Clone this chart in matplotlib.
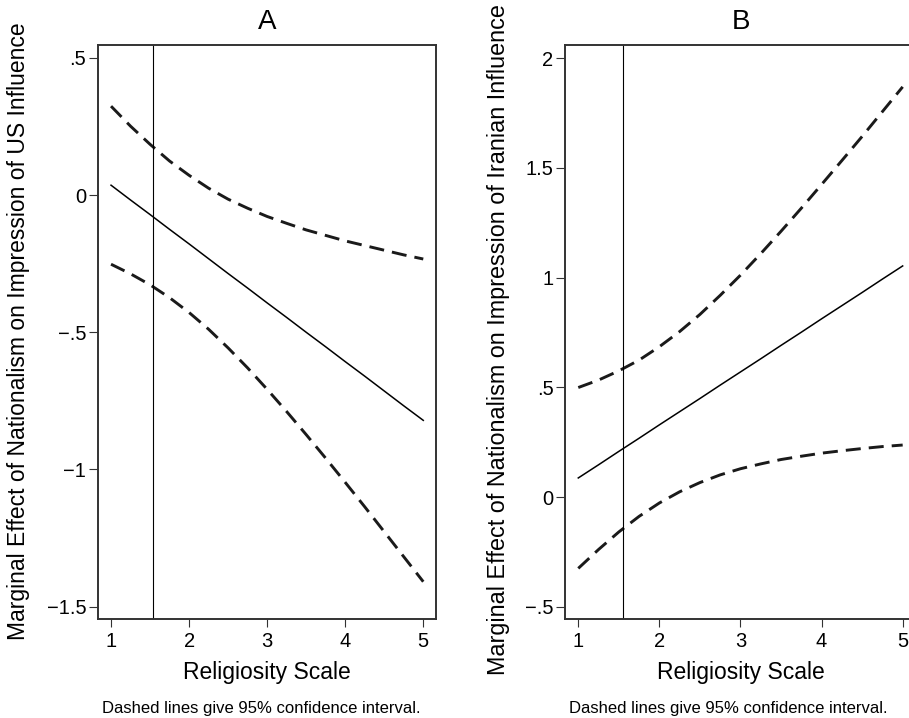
import matplotlib
matplotlib.use("Agg")
import matplotlib.pyplot as plt

plt.rcParams['font.family'] = ['Liberation Sans', 'DejaVu Sans']
plt.rcParams['lines.scale_dashes'] = False

# religiosity values where the marginal effect was evaluated
relig = [1, 1.25, 1.5, 1.75, 2, 2.25, 2.5, 2.75, 3,
         3.25, 3.5, 3.75, 4, 4.25, 4.5, 4.75, 5]

# panel A: effect on impression of US influence
us_effect = [0.036, -0.018, -0.071, -0.125, -0.178, -0.232, -0.286, -0.339, -0.393,
             -0.446, -0.500, -0.553, -0.607, -0.660, -0.714, -0.768, -0.821]
us_upper = [0.324, 0.251, 0.185, 0.124, 0.072, 0.025, -0.015, -0.048, -0.078,
            -0.103, -0.127, -0.147, -0.167, -0.184, -0.201, -0.218, -0.233]
us_lower = [-0.252, -0.287, -0.327, -0.374, -0.428, -0.489, -0.557, -0.630, -0.708,
            -0.789, -0.873, -0.959, -1.047, -1.136, -1.227, -1.318, -1.409]
us_ticks = [0.5, 0, -0.5, -1, -1.5]
us_ticklabels = [".5", "0", "\u2212.5", "\u22121", "\u22121.5"]

# panel B: effect on impression of Iranian influence
ir_effect = [0.087, 0.147, 0.208, 0.268, 0.329, 0.389, 0.449, 0.510, 0.570,
             0.630, 0.691, 0.751, 0.812, 0.872, 0.932, 0.993, 1.053]
ir_upper = [0.499, 0.533, 0.575, 0.624, 0.685, 0.754, 0.832, 0.919, 1.011,
            1.109, 1.211, 1.316, 1.424, 1.533, 1.643, 1.756, 1.869]
ir_lower = [-0.325, -0.239, -0.159, -0.088, -0.027, 0.024, 0.066, 0.101, 0.129,
            0.151, 0.171, 0.186, 0.200, 0.211, 0.221, 0.230, 0.237]
ir_ticks = [2, 1.5, 1, 0.5, 0, -0.5]
ir_ticklabels = ["2", "1.5", "1", ".5", "0", "\u2212.5"]

# mean of the religiosity scale (vertical reference line)
mean_a = 1.535
mean_b = 1.555

W, H = 909, 718
fig = plt.figure(figsize=(W / 100, H / 100), dpi=100)


def panel(rect, title, eff, up, lo, vline, ylim, ticks, ticklabels):
    ax = fig.add_axes(rect)
    ax.plot(relig, eff, color="black", lw=1.1)
    ax.plot(relig, up, color="#1a1a1a", lw=2.1, dashes=(10.8, 5.8))
    ax.plot(relig, lo, color="#1a1a1a", lw=2.1, dashes=(10.8, 5.8))
    ax.axvline(vline, color="black", lw=0.8)
    ax.set_xlim(0.833, 5.163)
    ax.set_ylim(*ylim)
    ax.set_xticks([1, 2, 3, 4, 5])
    ax.set_yticks(ticks)
    ax.set_yticklabels(ticklabels)
    ax.tick_params(axis="x", length=6, width=0.8, labelsize=14.5, pad=3, color="#333333")
    ax.tick_params(axis="y", length=6.5, width=0.8, labelsize=14.5, pad=2, color="#333333")
    for s in ax.spines.values():
        s.set_linewidth(1.4)
        s.set_color("#333333")
    ax.set_title(title, fontsize=20, pad=11)
    ax.set_xlabel("Religiosity Scale", fontsize=16.5, labelpad=7)
    return ax


ax_a = panel([98 / W, 1 - 619.3 / H, 338 / W, 574.6 / H], "A",
             us_effect, us_upper, us_lower, mean_a, (-1.546, 0.548),
             us_ticks, us_ticklabels)
ax_b = panel([565.3 / W, 1 - 619.3 / H, 351 / W, 574.6 / H], "B",
             ir_effect, ir_upper, ir_lower, mean_b, (-0.557, 2.061),
             ir_ticks, ir_ticklabels)
ax_b.set_xlim(0.84, 5.168)

# y titles placed directly so the long Iranian one stays inside the figure
fig.text(19 / W, 1 - 331 / H,
         "Marginal Effect of Nationalism on Impression of US Influence",
         rotation=90, ha="center", va="center", fontsize=16.5)
fig.text(499 / W, 1 - 339.5 / H,
         "Marginal Effect of Nationalism on Impression of Iranian Influence",
         rotation=90, ha="center", va="center", fontsize=16.8)

note = "Dashed lines give 95% confidence interval."
fig.text(102 / W, 1 - 712.5 / H, note, fontsize=12, ha="left", va="baseline")
fig.text(569 / W, 1 - 712.5 / H, note, fontsize=12, ha="left", va="baseline")

fig.savefig("out.png", dpi=100)
